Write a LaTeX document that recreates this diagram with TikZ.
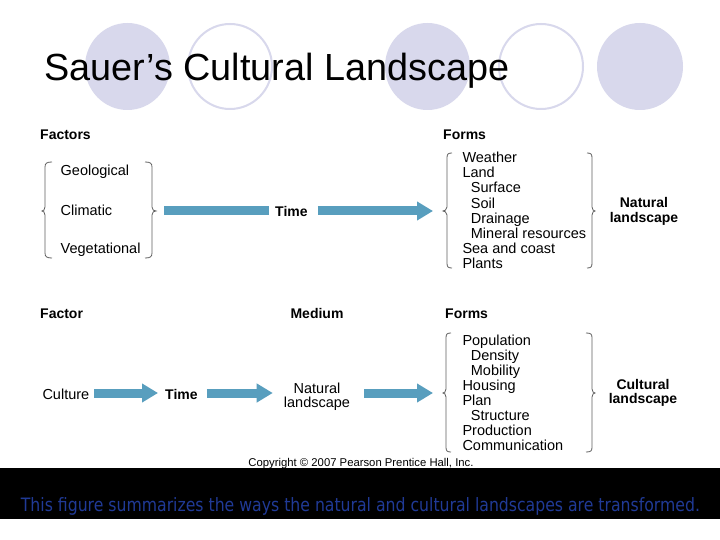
\documentclass[tikz,border=0pt]{standalone}
\usepackage{fontspec}
\setmainfont{Liberation Sans}
\newfontfamily\capfont{DejaVu Sans}
\usepackage{graphicx}
\usetikzlibrary{arrows.meta}
\definecolor{lav}{RGB}{216,216,236}
\definecolor{arrowblue}{RGB}{88,158,190}
\definecolor{bracegray}{RGB}{95,95,95}
\definecolor{captionblue}{RGB}{32,58,150}
\begin{document}
\begin{tikzpicture}[x=1pt,y=-1pt,
  txt/.style={inner sep=0pt, anchor=base west, font=\fontsize{14.5}{15}\selectfont},
  btxt/.style={inner sep=0pt, anchor=base west, font=\fontsize{14}{15}\selectfont\bfseries},
  result/.style={inner sep=0pt, align=center, font=\fontsize{14}{14.5}\selectfont\bfseries},
  brace/.style={draw=bracegray, line width=0.8pt},
  bar/.style={draw=arrowblue, line width=9pt},
  bigarrow/.style={bar, -{Triangle[length=16pt,width=18pt]}},
  disk/.style={fill=lav},
  ring/.style={draw=lav, line width=2pt}]

\useasboundingbox (0,0) rectangle (720,540);
\fill[white] (0,0) rectangle (720,540);

% decorative circles
\fill[disk] (127.5,66.5) ellipse [x radius=42.5, y radius=43.5];
\draw[ring] (230,66.5) ellipse [x radius=42, y radius=42.5];
\fill[disk] (427.5,66.5) ellipse [x radius=42.5, y radius=43.5];
\draw[ring] (541,66.5) ellipse [x radius=42, y radius=42.5];
\fill[disk] (640,66.5) ellipse [x radius=43, y radius=43.5];

% title
\node[inner sep=0pt, anchor=base west, font=\fontsize{37.8}{40}\selectfont] (title) at (44,81) {Sauer’s Cultural Landscape};

% ---------- natural landscape ----------
\node[btxt] (factors) at (40,140) {Factors};
\node[txt] (geo) at (60.5,176) {Geological};
\node[txt] (clim) at (60.5,215) {Climatic};
\node[txt] (veg) at (60.5,254) {Vegetational};

% braces around factors
\draw[brace] (52,162) .. controls (47,162) and (45,163) .. (45,167) -- (45,207)
  .. controls (45,210) and (43,211) .. (42,211) .. controls (43,211) and (45,212) .. (45,215)
  -- (45,253) .. controls (45,257) and (47,258) .. (52,258);
\draw[brace] (145,162) .. controls (150,162) and (152,163) .. (152,167) -- (152,207)
  .. controls (152,210) and (154,211) .. (156,211) .. controls (154,211) and (152,212) .. (152,215)
  -- (152,253) .. controls (152,257) and (150,258) .. (145,258);
\coordinate (fr) at (156,211);

\node[btxt] (time1) at (275,216) {Time};

\node[btxt] (forms1) at (443,140) {Forms};
\coordinate (fl) at (443,211);
\draw[brace] (452,153) .. controls (448,153) and (447,154) .. (447,158) -- (447,207)
  .. controls (447,210) and (444,211) .. (443,211) .. controls (444,211) and (447,212) .. (447,215)
  -- (447,263) .. controls (447,267) and (448,268) .. (452,268);
\draw[brace] (587,153) .. controls (591,153) and (592,154) .. (592,158) -- (592,207)
  .. controls (592,210) and (594,211) .. (595,211) .. controls (594,211) and (592,212) .. (592,215)
  -- (592,263) .. controls (592,267) and (591,268) .. (587,268);

\node[txt] (weather) at (462.3,162.7) {Weather};
\node[txt] (land) at (462.3,177.8) {Land};
\node[txt] (surface) at (470.7,192.9) {Surface};
\node[txt] (soil) at (470.7,208.0) {Soil};
\node[txt] (drainage) at (470.7,223.1) {Drainage};
\node[txt] (mineral) at (470.7,238.2) {Mineral resources};
\node[txt] (sea) at (462.3,253.3) {Sea and coast};
\node[txt] (plants) at (462.3,268.4) {Plants};

\node[result] (natres) at (644,211.2) {Natural\\landscape};

\draw[bar] ([xshift=8pt]fr) -- ([xshift=-6pt]time1.west |- fr);
\draw[bigarrow] ([xshift=10pt]time1.east |- fr) -- ([xshift=-10pt]fl);

% ---------- cultural landscape ----------
\node[btxt] (factor) at (40,318.3) {Factor};
\node[btxt, anchor=base] (medium) at (317,318.3) {Medium};
\node[btxt] (forms2) at (445,318.3) {Forms};

\node[txt] (culture) at (42.3,399) {Culture};
\node[btxt] (time2) at (165,399) {Time};
\node[inner sep=0pt, align=center, font=\fontsize{14.5}{14}\selectfont] (natmed) at (317,396.6) {Natural\\landscape};

\coordinate (cl) at (443,393);
\draw[brace] (451,333) .. controls (447,333) and (446,334) .. (446,338) -- (446,389)
  .. controls (446,392) and (444,393) .. (443,393) .. controls (444,393) and (446,394) .. (446,397)
  -- (446,447) .. controls (446,451) and (447,452) .. (451,452);
\draw[brace] (586,333) .. controls (591,333) and (592,334) .. (592,338) -- (592,389)
  .. controls (592,392) and (594,393) .. (595,393) .. controls (594,393) and (592,394) .. (592,397)
  -- (592,447) .. controls (592,451) and (591,452) .. (586,452);

\node[txt] (population) at (462.3,345.7) {Population};
\node[txt] (density) at (470.7,360.7) {Density};
\node[txt] (mobility) at (470.7,375.7) {Mobility};
\node[txt] (housing) at (462.3,390.7) {Housing};
\node[txt] (plan) at (462.3,405.7) {Plan};
\node[txt] (structure) at (470.7,420.7) {Structure};
\node[txt] (production) at (462.3,435.7) {Production};
\node[txt] (communication) at (462.3,450.7) {Communication};

\node[result] (culres) at (643,393.1) {Cultural\\landscape};

\draw[bigarrow] ([xshift=5pt]culture.east |- cl) -- ([xshift=-7pt]time2.west |- cl);
\draw[bigarrow] ([xshift=9pt]time2.east |- cl) -- ([xshift=-11pt]natmed.west |- cl);
\draw[bigarrow] ([xshift=14pt]natmed.east |- cl) -- ([xshift=-10pt]cl);

\node[inner sep=0pt, anchor=base, font=\fontsize{11.3}{12}\selectfont] (copy) at (361,466) {Copyright © 2007 Pearson Prentice Hall, Inc.};

% caption band
\fill[black] (0,468.3) rectangle (720,519.3);
\node[inner sep=0pt, anchor=base west, text=captionblue] (caption) at (20.7,511.7)
  {\resizebox{679pt}{\height}{\capfont\fontsize{18.4}{20}\selectfont This figure summarizes the ways the natural and cultural landscapes are transformed.}};
\end{tikzpicture}
\end{document}
